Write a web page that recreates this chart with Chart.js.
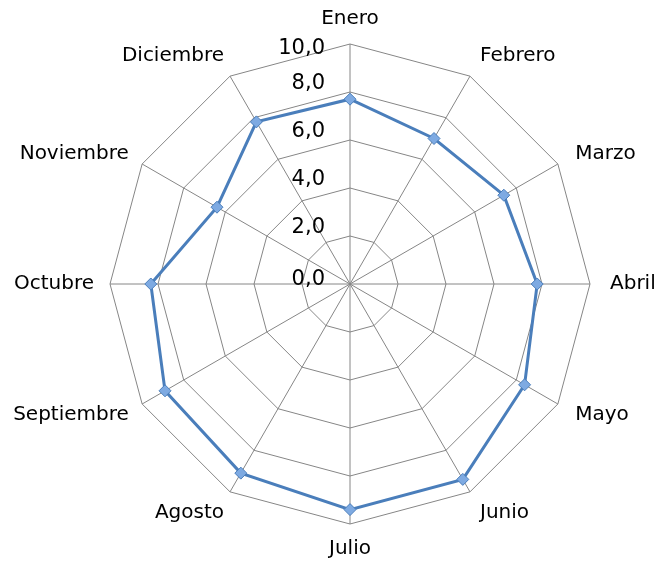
<!DOCTYPE html>
<html>
<head>
<meta charset="utf-8">
<script src="https://cdn.jsdelivr.net/npm/chart.js@4/dist/chart.umd.min.js"></script>
<style>
    html, body { margin: 0; padding: 0; background: #ffffff; }
    #wrap { width: 654px; height: 565px; }
</style>
</head>
<body>
<div id="wrap"><canvas id="radarChart" width="654" height="565"></canvas></div>
<script>
// Data
const months = ['Enero', 'Febrero', 'Marzo', 'Abril', 'Mayo', 'Junio',
    'Julio', 'Agosto', 'Septiembre', 'Octubre', 'Noviembre', 'Diciembre'];
const values = [7.7, 7.0, 7.4, 7.8, 8.4, 9.4, 9.4, 9.1, 8.9, 8.3, 6.4, 7.8];
const tickValues = [0, 2, 4, 6, 8, 10];

const fontFamily = '"DejaVu Sans", Verdana, sans-serif';

// Excel-style labels: month names around the web, values left of the vertical axis
const excelLabelsPlugin = {
    id: 'excelLabels',
    afterDatasetsDraw(chart) {
        const scale = chart.scales.r;
        const ctx = chart.ctx;
        ctx.save();
        ctx.font = '20px ' + fontFamily;
        ctx.fillStyle = '#000000';
        ctx.textBaseline = 'middle';

        // month names
        chart.data.labels.forEach((label, i) => {
            const a = scale.getIndexAngle(i);
            const pos = scale.getPointPosition(i, scale.drawingArea + 20);
            const s = Math.sin(a);
            const c = Math.cos(a);
            let x = pos.x;
            if (Math.abs(s) < 0.01) {
                ctx.textAlign = 'center';
            } else if (s > 0) {
                ctx.textAlign = 'left';
            } else {
                ctx.textAlign = 'right';
                x += 4; // left side sits a bit closer in the original
            }
            ctx.fillText(label, x, pos.y - Math.pow(c, 3) * 5);
        });

        // value ticks
        ctx.font = '21px ' + fontFamily;
        ctx.textAlign = 'right';
        tickValues.forEach(v => {
            const d = scale.getDistanceFromCenterForValue(v);
            let off = -8;
            if (v === scale.max) off = 5;
            if (v === scale.min) off = -4;
            ctx.fillText(v.toFixed(1).replace('.', ','), scale.xCenter - 25, scale.yCenter - d + off);
        });
        ctx.restore();
    }
};

const ctx = document.getElementById('radarChart').getContext('2d');
new Chart(ctx, {
    type: 'radar',
    data: {
        labels: months,
        datasets: [{
            label: 'Serie 1',
            data: values,
            borderColor: '#4a7ebb',
            borderWidth: 3,
            fill: false,
            tension: 0,
            pointStyle: 'rectRot',
            pointRadius: 6,
            pointHoverRadius: 6,
            pointBackgroundColor: '#7eaae2',
            pointBorderColor: '#4a7ebb',
            pointBorderWidth: 1
        }]
    },
    options: {
        responsive: false,
        animation: false,
        layout: { padding: { left: 100, right: 53, top: 44, bottom: 41 } },
        plugins: {
            legend: { display: false },
            tooltip: { enabled: false }
        },
        scales: {
            r: {
                min: 0,
                max: 10,
                ticks: {
                    stepSize: 2,
                    display: false
                },
                grid: {
                    color: '#868686',
                    lineWidth: 1
                },
                angleLines: {
                    color: '#868686',
                    lineWidth: 1
                },
                pointLabels: {
                    display: false
                }
            }
        }
    },
    plugins: [excelLabelsPlugin]
});
</script>
</body>
</html>
